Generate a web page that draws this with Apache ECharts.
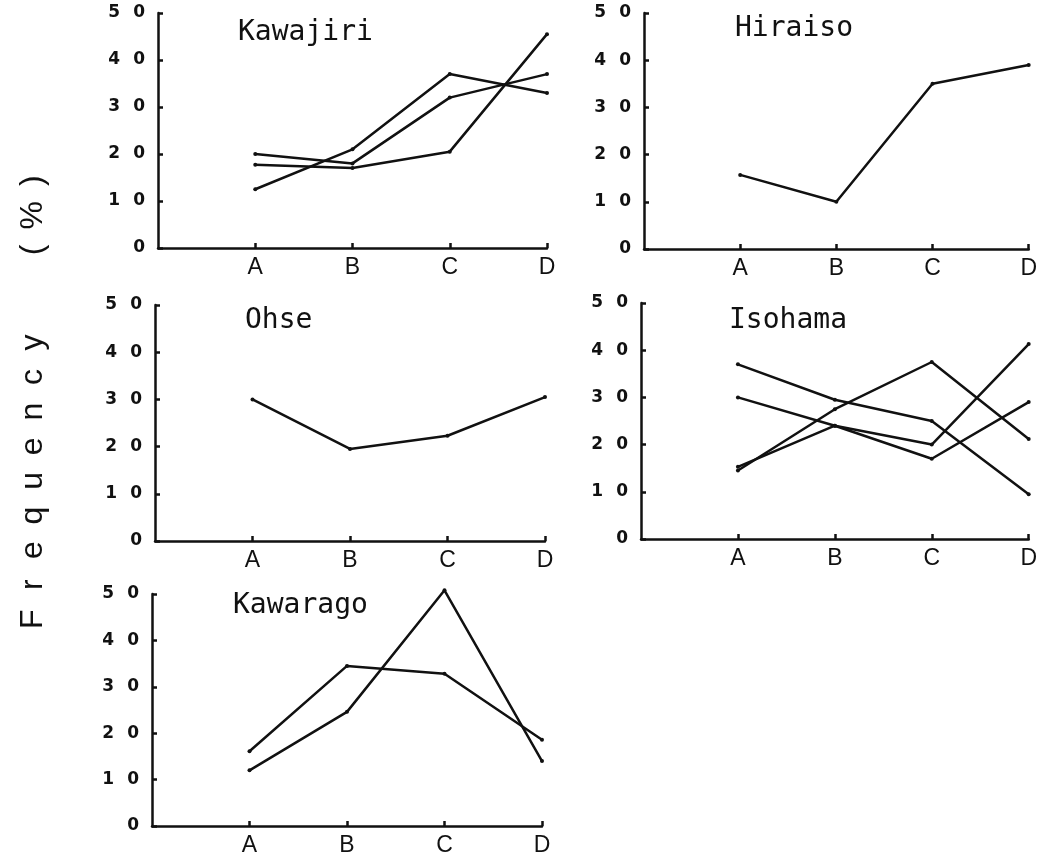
<!DOCTYPE html>
<html>
<head>
<meta charset="utf-8">
<script src="https://cdn.jsdelivr.net/npm/echarts@6/dist/echarts.min.js"></script>
<style>html,body{margin:0;padding:0;background:#fff;}#c{width:1040px;height:859px;}</style>
</head>
<body>
<div id="c"></div>
<script>
// ---- data ----
const categories = ['A', 'B', 'C', 'D'];
const yTicks = [0, 10, 20, 30, 40, 50];
const yLabel = 'Frequency (%)';

const kawajiriTitle = 'Kawajiri';
const kawajiri1 = [12.5, 21, 37, 33];
const kawajiri2 = [20, 18, 32, 37];
const kawajiri3 = [17.7, 17, 20.5, 45.5];

const hiraisoTitle = 'Hiraiso';
const hiraiso1 = [15.7, 10, 35, 39];

const ohseTitle = 'Ohse';
const ohse1 = [30, 19.5, 22.3, 30.5];

const isohamaTitle = 'Isohama';
const isohama1 = [37, 29.5, 25, 9.5];
const isohama2 = [30, 24, 17, 29];
const isohama3 = [14.5, 27.5, 37.5, 21.2];
const isohama4 = [15.3, 24, 20, 41.3];

const kawaragoTitle = 'Kawarago';
const kawarago1 = [16.1, 34.5, 32.8, 18.6];
const kawarago2 = [12, 24.6, 50.8, 14];

// ---- layout ----
const panels = [
  { title: kawajiriTitle, series: [kawajiri1, kawajiri2, kawajiri3], grid: {left: 158, top: 13, width: 389, height: 235}, tpos: {left: 238, top: 19} },
  { title: hiraisoTitle, series: [hiraiso1], grid: {left: 644, top: 13, width: 388, height: 236}, tpos: {left: 735, top: 15} },
  { title: ohseTitle, series: [ohse1], grid: {left: 155, top: 305, width: 390, height: 236}, tpos: {left: 245, top: 307} },
  { title: isohamaTitle, series: [isohama1, isohama2, isohama3, isohama4], grid: {left: 641, top: 303, width: 389, height: 236}, tpos: {left: 729, top: 307} },
  { title: kawaragoTitle, series: [kawarago1, kawarago2], grid: {left: 152, top: 594, width: 390, height: 232}, tpos: {left: 233, top: 592} }
];

const xCats = [''].concat(categories);
const ink = '#111';
const grids = [], xAxes = [], yAxes = [], series = [], titles = [];

panels.forEach((p, i) => {
  grids.push(Object.assign({containLabel: false}, p.grid));
  titles.push({
    text: p.title, left: p.tpos.left, top: p.tpos.top, padding: 0,
    textStyle: {fontFamily: 'DejaVu Sans Mono', fontSize: 28, fontWeight: 'normal', color: ink}
  });
  xAxes.push({
    type: 'category', gridIndex: i, data: xCats, boundaryGap: false,
    axisLine: {lineStyle: {color: ink, width: 2.5}},
    axisTick: {show: true, inside: true, length: 5, lineStyle: {color: ink, width: 2.5},
      interval: (idx) => idx > 0},
    axisLabel: {interval: 0, margin: 8, fontFamily: 'Liberation Sans', fontSize: 23, color: ink},
    splitLine: {show: false}
  });
  yAxes.push({
    type: 'value', gridIndex: i, min: yTicks[0], max: yTicks[yTicks.length - 1], interval: yTicks[1] - yTicks[0],
    axisLine: {show: true, lineStyle: {color: ink, width: 2.5}},
    axisTick: {show: true, inside: true, length: 5, lineStyle: {color: ink, width: 2.5}},
    splitLine: {show: false},
    axisLabel: {
      margin: 13,
      formatter: (v) => v === 0 ? '{z|0}' : '{d|' + (v / 10) + '}{z|0}',
      rich: {
        d: {fontFamily: 'DejaVu Sans', fontWeight: 'bold', fontSize: 17, color: ink, width: 25, align: 'left'},
        z: {fontFamily: 'DejaVu Sans', fontWeight: 'bold', fontSize: 17, color: ink}
      }
    }
  });
  p.series.forEach((arr) => {
    series.push({
      type: 'line', xAxisIndex: i, yAxisIndex: i, clip: false,
      data: [null].concat(arr),
      symbol: 'circle', symbolSize: 4, showSymbol: true,
      itemStyle: {color: ink},
      lineStyle: {color: ink, width: 2.5},
      silent: true, animation: false
    });
  });
});

// vertical axis title: each character in an evenly spaced box
const yLabelRich = yLabel.split('').map(ch => ch === ' ' ? '{s| }' : '{c|' + ch + '}').join('');

const chart = echarts.init(document.getElementById('c'), null, {renderer: 'canvas'});
chart.setOption({
  backgroundColor: '#fff',
  animation: false,
  title: titles,
  grid: grids,
  xAxis: xAxes,
  yAxis: yAxes,
  series: series,
  graphic: [{
    type: 'text', x: 33, y: 400, rotation: Math.PI / 2,
    style: {
      text: yLabelRich, align: 'center', verticalAlign: 'middle',
      rich: {
        c: {fontFamily: 'Liberation Sans', fontSize: 32, fill: ink, color: ink, width: 34.6, align: 'center'},
        s: {fontFamily: 'Liberation Sans', fontSize: 32, width: 58}
      }
    }
  }]
});
</script>
</body>
</html>
